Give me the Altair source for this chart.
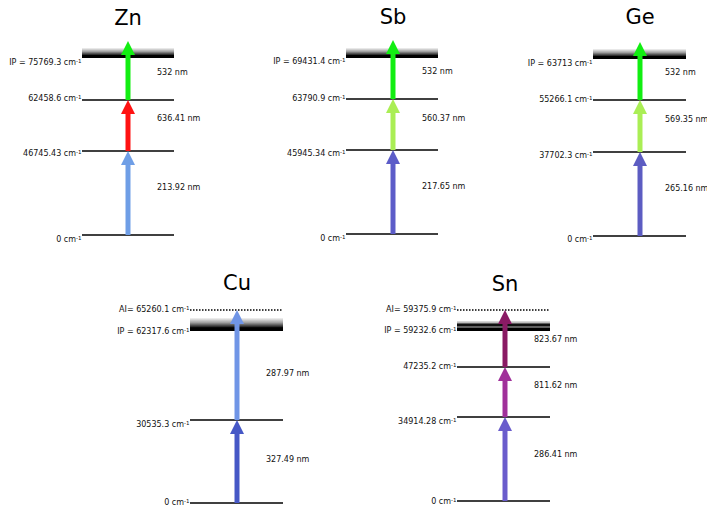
import altair as alt
import pandas as pd

# ---------------- data ----------------
ELEMENTS = ["Zn", "Sb", "Ge", "Cu", "Sn"]

# level labels (energies) per element, bottom -> top
LEVEL_TEXT = {
    "Zn": ["0 cm⁻¹", "46745.43 cm⁻¹", "62458.6 cm⁻¹", "IP = 75769.3 cm⁻¹"],
    "Sb": ["0 cm⁻¹", "45945.34 cm⁻¹", "63790.9 cm⁻¹", "IP = 69431.4 cm⁻¹"],
    "Ge": ["0 cm⁻¹", "37702.3 cm⁻¹", "55266.1 cm⁻¹", "IP = 63713 cm⁻¹"],
    "Cu": ["0 cm⁻¹", "30535.3 cm⁻¹", "IP = 62317.6 cm⁻¹", "AI= 65260.1 cm⁻¹"],
    "Sn": ["0 cm⁻¹", "34914.28 cm⁻¹", "47235.2 cm⁻¹", "IP = 59232.6 cm⁻¹", "AI= 59375.9 cm⁻¹"],
}
LEVEL_KIND = {
    "Zn": ["level", "level", "level", "ip"],
    "Sb": ["level", "level", "level", "ip"],
    "Ge": ["level", "level", "level", "ip"],
    "Cu": ["level", "level", "ip", "ai"],
    "Sn": ["level", "level", "level", "ip", "ai"],
}
# schematic (not-to-scale) level heights, in drawing units
LEVEL_POS = {
    "Zn": [235, 151, 100, 58],
    "Sb": [234, 150, 99, 58],
    "Ge": [236, 152, 100, 59],
    "Cu": [503, 420, 331, 310],
    "Sn": [501, 417, 367, 331, 310],
}
# laser transitions: wavelength text, start, end (schematic), colour
WAVELENGTHS = {
    "Zn": ["213.92 nm", "636.41 nm", "532 nm"],
    "Sb": ["217.65 nm", "560.37 nm", "532 nm"],
    "Ge": ["265.16 nm", "569.35 nm", "532 nm"],
    "Cu": ["327.49 nm", "287.97 nm"],
    "Sn": ["286.41 nm", "811.62 nm", "823.67 nm"],
}
ARROW_FROM = {
    "Zn": [235, 151, 100], "Sb": [234, 150, 99], "Ge": [236, 152, 100],
    "Cu": [503, 420], "Sn": [501, 417, 367],
}
ARROW_TO = {
    "Zn": [151, 100, 41], "Sb": [150, 99, 40], "Ge": [152, 100, 42],
    "Cu": [420, 310], "Sn": [417, 367, 310],
}
ARROW_COLOR = {
    "Zn": ["#6f9ee6", "#ff1212", "#12ee12"],
    "Sb": ["#5c5cc8", "#aaee55", "#12ee12"],
    "Ge": ["#5c5cc2", "#aaee55", "#12ee12"],
    "Cu": ["#4658c6", "#7095e6"],
    "Sn": ["#6a5ccc", "#a0309a", "#8a1a64"],
}

# ---------------- layout ----------------
ARROW_X = {"Zn": 128, "Sb": 393, "Ge": 640, "Cu": 237, "Sn": 505}
LINE_X0 = {"Zn": 82, "Sb": 346, "Ge": 593, "Cu": 190, "Sn": 457}
LINE_X1 = {"Zn": 174, "Sb": 438, "Ge": 686, "Cu": 283, "Sn": 550}
WL_DX = {"Zn": 29, "Sb": 29, "Ge": 25, "Cu": 29, "Sn": 29}
TITLE_Y = {"Zn": 25, "Sb": 24, "Ge": 24, "Cu": 290, "Sn": 291}
LABEL_DY = {
    "Zn": [5, 3, -1, 5], "Sb": [5, 4, 0, 4], "Ge": [4, 4, 0, 5],
    "Cu": [0, 5, 1, 0], "Sn": [1, 5, 0, 0, 0],
}
WL_LABEL_Y = {
    "Zn": [188, 119, 73], "Sb": [187, 119, 72], "Ge": [189, 120, 73],
    "Cu": [460, 374], "Sn": [455, 386, 340],
}
SUP = "⁻¹"

lev_rows, arr_rows, title_rows = [], [], []
for el in ELEMENTS:
    title_rows.append({"el": el, "x": ARROW_X[el], "y": TITLE_Y[el]})
    for t, k, p, d in zip(LEVEL_TEXT[el], LEVEL_KIND[el], LEVEL_POS[el],
                          LABEL_DY[el]):
        main = t.replace(SUP, "")
        lev_rows.append({"el": el, "text": main, "sup": "-1", "kind": k,
                         "y": p, "ytop": p - (13 if el == "Cu" else 10),
                         "ylab": p + d, "ysup": p + d - 2.5,
                         "x0": LINE_X0[el], "x1": LINE_X1[el],
                         "xl": LINE_X0[el] - 6, "xs": LINE_X0[el] - 6})
    for w, a, b, c, ly in zip(WAVELENGTHS[el], ARROW_FROM[el], ARROW_TO[el],
                              ARROW_COLOR[el], WL_LABEL_Y[el]):
        arr_rows.append({"el": el, "wl": w, "y0": a, "y1": b + 10,
                         "yh": b + 7, "col": c, "x": ARROW_X[el],
                         "xl": ARROW_X[el] + WL_DX[el], "ly": ly})

lev = pd.DataFrame(lev_rows)
arr = pd.DataFrame(arr_rows)
ttl = pd.DataFrame(title_rows)

W, H = 699, 498
xs = alt.Scale(domain=[8, 8 + W], nice=False, zero=False)
ys = alt.Scale(domain=[8, 8 + H], nice=False, zero=False, reverse=True)
FONT = "DejaVu Sans"

base_lev = alt.Chart(lev)

grad_ip = alt.Gradient(gradient="linear", x1=0, y1=0, x2=0, y2=1, stops=[
    alt.GradientStop(offset=0, color="#f4f4f4"),
    alt.GradientStop(offset=0.35, color="#a0a0a0"),
    alt.GradientStop(offset=0.65, color="#303030"),
    alt.GradientStop(offset=0.75, color="#000000"),
    alt.GradientStop(offset=1, color="#000000")])
grad_sn = alt.Gradient(gradient="linear", x1=0, y1=0, x2=0, y2=1, stops=[
    alt.GradientStop(offset=0, color="#e4e4e4"),
    alt.GradientStop(offset=0.2, color="#b0b0b0"),
    alt.GradientStop(offset=0.3, color="#101010"),
    alt.GradientStop(offset=0.5, color="#101010"),
    alt.GradientStop(offset=0.56, color="#707070"),
    alt.GradientStop(offset=0.64, color="#707070"),
    alt.GradientStop(offset=0.7, color="#000000"),
    alt.GradientStop(offset=1, color="#000000")])

band = base_lev.mark_rect(fill=grad_ip, strokeWidth=0).encode(
    x=alt.X("x0:Q", scale=xs, axis=None), x2="x1:Q",
    y=alt.Y("ytop:Q", scale=ys, axis=None), y2="y:Q",
).transform_filter("datum.kind == 'ip' && datum.el != 'Sn'")

band_sn = base_lev.mark_rect(fill=grad_sn, strokeWidth=0).encode(
    x=alt.X("x0:Q", scale=xs, axis=None), x2="x1:Q",
    y=alt.Y("ytop:Q", scale=ys, axis=None), y2="y:Q",
).transform_filter("datum.kind == 'ip' && datum.el == 'Sn'")

lines = base_lev.mark_rule(color="black", strokeWidth=1.6).encode(
    x=alt.X("x0:Q", scale=xs, axis=None), x2="x1:Q",
    y=alt.Y("y:Q", scale=ys, axis=None),
).transform_filter("datum.kind == 'level'")

dots = base_lev.mark_rule(color="black", strokeWidth=1.6,
                          strokeDash=[1.5, 1.5]).encode(
    x=alt.X("x0:Q", scale=xs, axis=None), x2="x1:Q",
    y=alt.Y("y:Q", scale=ys, axis=None),
).transform_filter("datum.kind == 'ai'")

lev_text = base_lev.mark_text(align="right", baseline="middle", fontSize=8,
                              font=FONT, color="#111111").encode(
    x=alt.X("xl:Q", scale=xs, axis=None),
    y=alt.Y("ylab:Q", scale=ys, axis=None),
    text="text:N")

sup_text = base_lev.mark_text(align="left", baseline="middle", fontSize=5.5,
                              font=FONT, color="#111111").encode(
    x=alt.X("xs:Q", scale=xs, axis=None),
    y=alt.Y("ysup:Q", scale=ys, axis=None),
    text="sup:N")

base_arr = alt.Chart(arr)
shaft = base_arr.mark_rule(strokeWidth=5, strokeCap="butt").encode(
    x=alt.X("x:Q", scale=xs, axis=None),
    y=alt.Y("y0:Q", scale=ys, axis=None), y2="y1:Q",
    color=alt.Color("col:N", scale=None))

head = base_arr.mark_point(shape="M0,-1L1,1L-1,1Z", size=196, filled=True,
                           opacity=1, strokeWidth=0).encode(
    x=alt.X("x:Q", scale=xs, axis=None),
    y=alt.Y("yh:Q", scale=ys, axis=None),
    color=alt.Color("col:N", scale=None))

wl_text = base_arr.mark_text(align="left", baseline="middle", fontSize=8,
                             font=FONT, color="#111111").encode(
    x=alt.X("xl:Q", scale=xs, axis=None),
    y=alt.Y("ly:Q", scale=ys, axis=None),
    text="wl:N")

titles = alt.Chart(ttl).mark_text(align="center", baseline="alphabetic",
                                  fontSize=21, font=FONT, color="black").encode(
    x=alt.X("x:Q", scale=xs, axis=None),
    y=alt.Y("y:Q", scale=ys, axis=None),
    text="el:N")

chart = alt.layer(band, band_sn, lines, dots, shaft, head, lev_text, sup_text,
                  wl_text, titles).properties(
    width=W, height=H, padding=0,
    autosize=alt.AutoSizeParams(type="none"),
    background="white",
).configure_view(stroke=None)

chart.save("out.html", embed_options={"renderer": "svg", "actions": False})
